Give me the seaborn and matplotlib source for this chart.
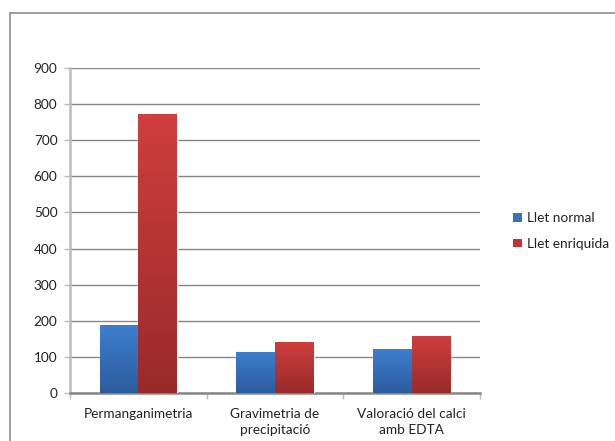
import numpy as np
import pandas as pd
import matplotlib
matplotlib.use("Agg")
import matplotlib.pyplot as plt
import seaborn as sns
from matplotlib.colors import LinearSegmentedColormap
from matplotlib.lines import Line2D
from matplotlib.patches import Patch

# Data
categories = ["Permanganimetria", "Gravimetria de\nprecipitació", "Valoració del calci\namb EDTA"]
series_names = ["Llet normal", "Llet enriquida"]
normal = [189, 114, 122]
enriquida = [774, 142, 158]
y_ticks = [0, 100, 200, 300, 400, 500, 600, 700, 800, 900]

df = pd.DataFrame({
    "categoria": categories * 2,
    "serie": [series_names[0]] * 3 + [series_names[1]] * 3,
    "valor": normal + enriquida,
})

sns.set_theme(style="white")
plt.rcParams["font.family"] = ["Lato", "DejaVu Sans"]

fig = plt.figure(figsize=(6.15, 4.41), dpi=100)
ax = fig.add_axes([0.1138, 0.1088, 0.6667, 0.737])

palette = {series_names[0]: "#3873c0", series_names[1]: "#bf3535"}
sns.barplot(data=df, x="categoria", y="valor", hue="serie", order=categories,
            hue_order=series_names, palette=palette, width=0.565, gap=0,
            saturation=1, legend=False, ax=ax, zorder=3)

# Vertical gradient fill for each bar
grads = {
    series_names[0]: ("#2c5c9c", "#3d7fd0"),
    series_names[1]: ("#992a2a", "#d03e3e"),
}
ax.set_xlim(-0.5, 2.5)
ax.set_ylim(0, 900)
n = len(categories)
for i, patch in enumerate(ax.patches[:2 * n]):
    name = series_names[i // n]
    cmap = LinearSegmentedColormap.from_list(name, grads[name])
    x0, y0 = patch.get_x(), patch.get_y()
    w, h = patch.get_width(), patch.get_height()
    grad = np.linspace(0, 1, 256).reshape(-1, 1)
    im = ax.imshow(grad, cmap=cmap, origin="lower", aspect="auto",
                   extent=(x0, x0 + w, y0, y0 + h), zorder=4)
    im.set_clip_path(patch)
ax.set_xlim(-0.5, 2.5)
ax.set_ylim(0, 900)

# Axes styling
ax.set_yticks(y_ticks)
ax.yaxis.grid(True, color="#868686", linewidth=1)
ax.set_axisbelow(True)
ax.set_xlabel("")
ax.set_ylabel("")
for s in ["top", "right"]:
    ax.spines[s].set_visible(False)
ax.spines["left"].set_color("#bcbcbc")
ax.spines["left"].set_linewidth(1.8)
ax.spines["bottom"].set_color("#868686")
ax.spines["bottom"].set_linewidth(1.8)

ax.tick_params(axis="y", which="major", direction="out", length=4, width=1,
               color="#bcbcbc", labelsize=9.8, labelcolor="#222222", pad=5, left=True)
ax.set_xticks([-0.5, 0.5, 1.5, 2.5])
ax.set_xticklabels([])
ax.set_xticks([0, 1, 2], minor=True)
ax.set_xticklabels(categories, minor=True, fontsize=9.8, color="#222222",
                   linespacing=1.35)
ax.tick_params(axis="x", which="major", direction="out", length=4, width=1,
               color="#bcbcbc", bottom=True)
ax.tick_params(axis="x", which="minor", length=0, pad=11)

# Legend
handles = [Patch(facecolor=palette[s], edgecolor="none") for s in series_names]
fig.legend(handles, series_names, loc="center left",
           bbox_to_anchor=(0.815, 0.476), frameon=False, fontsize=9.8,
           handlelength=0.6, handleheight=0.6, handletextpad=0.4,
           labelspacing=1.0, labelcolor="#222222")

# Outer chart frame
fig.add_artist(Line2D([10 / 615, 10 / 615], [0, 1 - 13 / 441],
                      transform=fig.transFigure, color="#8c8c8c", linewidth=1.2))
fig.add_artist(Line2D([10 / 615, 1], [1 - 13 / 441, 1 - 13 / 441],
                      transform=fig.transFigure, color="#8c8c8c", linewidth=1.2))

fig.savefig("out.png", dpi=100, facecolor="white")
